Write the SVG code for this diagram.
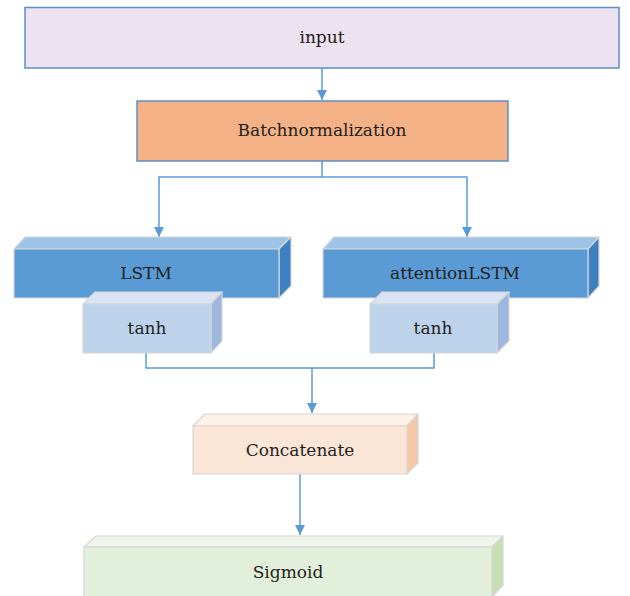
<svg xmlns="http://www.w3.org/2000/svg" width="630" height="596" viewBox="0 0 630 596">
<defs>
<marker id="arr" markerWidth="10" markerHeight="11" refX="10" refY="5" orient="auto" markerUnits="userSpaceOnUse" viewBox="0 0 10 10">
<path d="M0,0 L10,5 L0,10 Z" fill="#5b9bd5"/>
</marker>
</defs>
<style>
.t{font-family:'DejaVu Serif','Liberation Serif',serif;font-size:17px;fill:#231f20;text-anchor:middle}
.flat{stroke:#5b8fc7;stroke-width:1.5}
.edge{fill:none;stroke:#5b9bd5;stroke-width:1.5}
.b{stroke:#d6d6d6;stroke-width:1.2;stroke-linejoin:round}
</style>
<g id="connectors">
<line class="edge" x1="322" y1="68" x2="322" y2="100" marker-end="url(#arr)"/>
<polyline class="edge" points="322,161 322,177 159,177 159,237" marker-end="url(#arr)"/>
<polyline class="edge" points="322,177 467,177 467,237" marker-end="url(#arr)"/>
<polyline class="edge" points="146,353 146,368 434,368 434,353"/>
<line class="edge" x1="312" y1="368" x2="312" y2="413" marker-end="url(#arr)"/>
<line class="edge" x1="300" y1="474" x2="300" y2="535" marker-end="url(#arr)"/>
</g>
<g id="input">
<rect class="flat" x="25" y="7.5" width="594" height="60.5" fill="#ede2f0"/>
<text class="t" x="322" y="43">input</text>
</g>
<g id="batchnorm">
<rect class="flat" x="137" y="101" width="371" height="60" fill="#f3b185"/>
<text class="t" x="322" y="136">Batchnormalization</text>
</g>
<g id="lstm">
<polygon class="b" points="14,249 25,237 291,237 279,249" fill="#9dc3e6"/>
<polygon class="b" points="279,249 291,237 291,286 279,298" fill="#3d80c2"/>
<rect class="b" x="14" y="249" width="265" height="49" fill="#5b9bd5"/>
<text class="t" x="146" y="279">LSTM</text>
</g>
<g id="attentionLSTM">
<polygon class="b" points="323,249 334,237 599,237 588,249" fill="#9dc3e6"/>
<polygon class="b" points="588,249 599,237 599,286 588,298" fill="#3d80c2"/>
<rect class="b" x="323" y="249" width="265" height="49" fill="#5b9bd5"/>
<text class="t" x="455" y="279">attentionLSTM</text>
</g>
<g id="tanh1">
<polygon class="b" points="83,304 95,292 222,292 211,304" fill="#dae3f3"/>
<polygon class="b" points="211,304 222,292 222,341 211,353" fill="#9db7de"/>
<rect class="b" x="83" y="304" width="128" height="49" fill="#bdd3ec"/>
<text class="t" x="147" y="334">tanh</text>
</g>
<g id="tanh2">
<polygon class="b" points="370,304 382,292 509,292 497,304" fill="#dae3f3"/>
<polygon class="b" points="497,304 509,292 509,341 497,353" fill="#9db7de"/>
<rect class="b" x="370" y="304" width="127" height="49" fill="#bdd3ec"/>
<text class="t" x="433" y="334">tanh</text>
</g>
<g id="concatenate">
<polygon class="b" points="193,426 205,414 418,414 407,426" fill="#fdf0e7"/>
<polygon class="b" points="407,426 418,414 418,463 407,474" fill="#f7c8a6"/>
<rect class="b" x="193" y="426" width="214" height="48" fill="#fbe5d7"/>
<text class="t" x="300" y="456">Concatenate</text>
</g>
<g id="sigmoid">
<polygon class="b" points="84,547 96,536 503,536 492,547" fill="#eff5ea"/>
<polygon class="b" points="492,547 503,536 503,585 492,597" fill="#c6e0b4"/>
<rect class="b" x="84" y="547" width="408" height="52" fill="#e2efda"/>
<text class="t" x="288" y="578">Sigmoid</text>
</g>
</svg>
